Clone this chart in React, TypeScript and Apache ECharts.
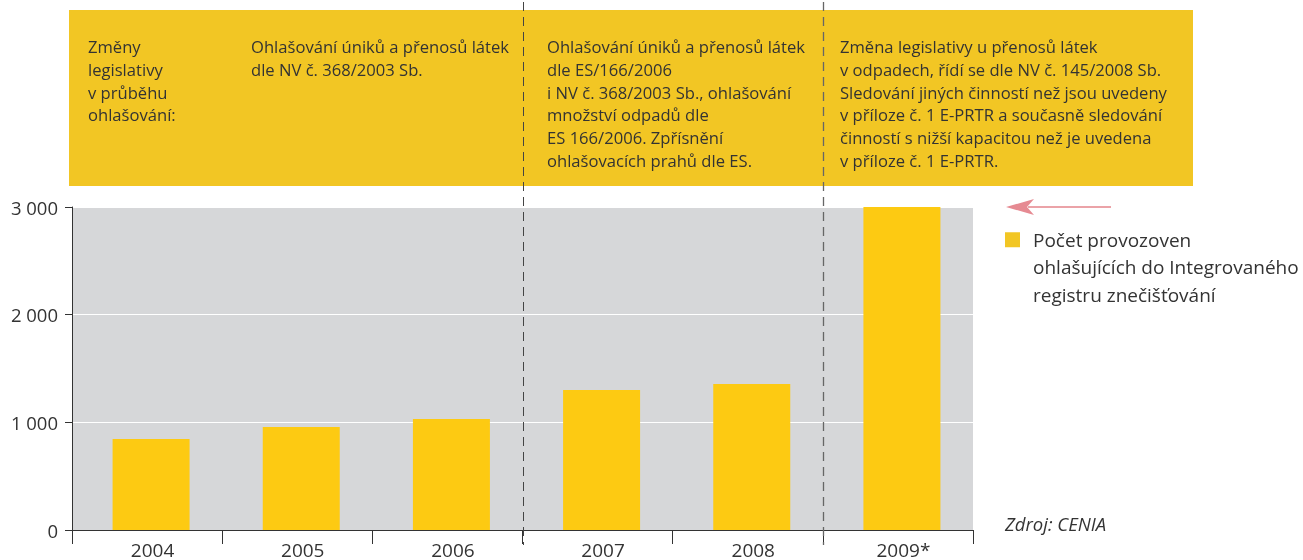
import React, { useEffect, useRef } from "react";
import * as echarts from "echarts";

const years = ["2004", "2005", "2006", "2007", "2008", "2009*"];
const facilities = [845, 956, 1031, 1300, 1356, 3000];
const yTicks = [0, 1000, 2000, 3000];
const seriesName = "Počet provozoven\nohlašujících do Integrovaného\nregistru znečišťování";
const headerLabel = ["Změny", "legislativy", "v průběhu", "ohlašování:"];
const period1 = ["Ohlašování úniků a přenosů látek", "dle NV č. 368/2003 Sb."];
const period2 = [
  "Ohlašování úniků a přenosů látek",
  "dle ES/166/2006",
  "i NV č. 368/2003 Sb., ohlašování",
  "množství odpadů dle",
  "ES 166/2006. Zpřísnění",
  "ohlašovacích prahů dle ES.",
];
const period3 = [
  "Změna legislativy u přenosů látek",
  "v odpadech, řídí se dle NV č. 145/2008 Sb.",
  "Sledování jiných činností než jsou uvedeny",
  "v příloze č. 1 E-PRTR a současně sledování",
  "činností s nižší kapacitou než je uvedena",
  "v příloze č. 1 E-PRTR.",
];
const source = "Zdroj: CENIA";

const FONT = "'Open Sans', sans-serif";
const TEXT = "#333333";
const BAR_W = 77;

export default function App() {
  const ref = useRef<HTMLDivElement>(null);
  useEffect(() => {
    if (!ref.current) return;
    const chart = echarts.init(ref.current, null, { renderer: "svg" });
    const headerText = (lines: string[], x: number) => ({
      type: "text",
      x,
      y: 35,
      style: {
        text: lines.join("\n"),
        font: `16.6px ${FONT}`,
        fill: TEXT,
        lineHeight: 22.8,
        textVerticalAlign: "top",
      },
    });
    chart.setOption({
      animation: false,
      textStyle: { fontFamily: FONT },
      grid: {
        left: 72,
        right: 330,
        top: 207,
        bottom: 30,
        show: true,
        backgroundColor: "#D6D7D9",
        borderWidth: 0,
      },
      legend: {
        left: 1005,
        top: 171,
        padding: 0,
        orient: "vertical",
        icon: "rect",
        itemWidth: 15,
        itemHeight: 15,
        data: [{ name: seriesName, itemStyle: { color: "#F2C624" } }],
        formatter: (name: string) => "\n\n" + name,
        textStyle: {
          fontFamily: FONT,
          fontSize: 19,
          color: TEXT,
          lineHeight: 27.5,
          padding: [0, 0, 0, 8],
        },
      },
      xAxis: {
        type: "category",
        data: years,
        axisLine: { lineStyle: { color: "#333", width: 1 } },
        axisTick: { show: true, length: 14, lineStyle: { color: "#333" } },
        axisLabel: {
          color: TEXT,
          fontSize: 19,
          margin: 10,
          fontFamily: FONT,
          padding: [0, 0, 0, 11],
        },
      },
      yAxis: {
        type: "value",
        min: 0,
        max: 3000,
        interval: 1000,
        axisLine: { show: true, lineStyle: { color: "#333", width: 1 } },
        axisTick: { show: true, length: 7, lineStyle: { color: "#333" } },
        splitLine: { lineStyle: { color: "#ffffff", width: 1 } },
        axisLabel: {
          color: TEXT,
          fontSize: 18.5,
          margin: 14,
          fontFamily: FONT,
          formatter: (v: number) =>
            yTicks.includes(v) ? String(v).replace(/\B(?=(\d{3})+(?!\d))/g, " ") : "",
        },
      },
      series: [
        {
          name: "spacer",
          type: "bar",
          data: [],
          barWidth: BAR_W,
          silent: true,
        },
        {
          name: seriesName,
          type: "bar",
          data: facilities,
          barWidth: BAR_W,
          barGap: `${(-(BAR_W - 8) / BAR_W) * 100}%`,
          itemStyle: { color: "#FDCA12" },
        },
      ],
    });

    const c2 = chart.convertToPixel({ xAxisIndex: 0 }, years[2]) as number;
    const c3 = chart.convertToPixel({ xAxisIndex: 0 }, years[3]) as number;
    const c4 = chart.convertToPixel({ xAxisIndex: 0 }, years[4]) as number;
    const c5 = chart.convertToPixel({ xAxisIndex: 0 }, years[5]) as number;
    const b1 = Math.round((c2 + c3) / 2) + 0.5;
    const b2 = Math.round((c4 + c5) / 2) + 0.5;
    const y3000 = chart.convertToPixel({ yAxisIndex: 0 }, 3000) as number;

    chart.setOption({
      graphic: [
        {
          type: "rect",
          z: 0,
          shape: { x: 69, y: 10, width: 1124, height: 176 },
          style: { fill: "#F2C624" },
        },
        headerText(headerLabel, 88),
        headerText(period1, 251),
        headerText(period2, 547),
        headerText(period3, 840),
        {
          type: "line",
          z: 50,
          shape: { x1: b1, y1: 2, x2: b1, y2: 545 },
          style: { stroke: "#444", lineWidth: 1, lineDash: [9, 6] },
        },
        {
          type: "line",
          z: 50,
          shape: { x1: b2, y1: 2, x2: b2, y2: 545 },
          style: { stroke: "#666", lineWidth: 1.3, lineDash: [9, 6] },
        },
        {
          type: "line",
          shape: { x1: 1028, y1: y3000, x2: 1111, y2: y3000 },
          style: { stroke: "#EBA3A8", lineWidth: 2 },
        },
        {
          type: "polygon",
          shape: {
            points: [
              [1006, y3000],
              [1034, y3000 - 8],
              [1027, y3000],
              [1034, y3000 + 8],
            ],
          },
          style: { fill: "#E68A92" },
        },
        {
          type: "text",
          x: 1005,
          y: 523,
          style: {
            text: source,
            font: `italic 18.5px ${FONT}`,
            fill: TEXT,
            textVerticalAlign: "middle",
          },
        },
      ],
    });
    return () => chart.dispose();
  }, []);
  return (
    <div
      ref={ref}
      style={{ position: "fixed", left: 0, top: 0, width: 1303, height: 560 }}
    />
  );
}
